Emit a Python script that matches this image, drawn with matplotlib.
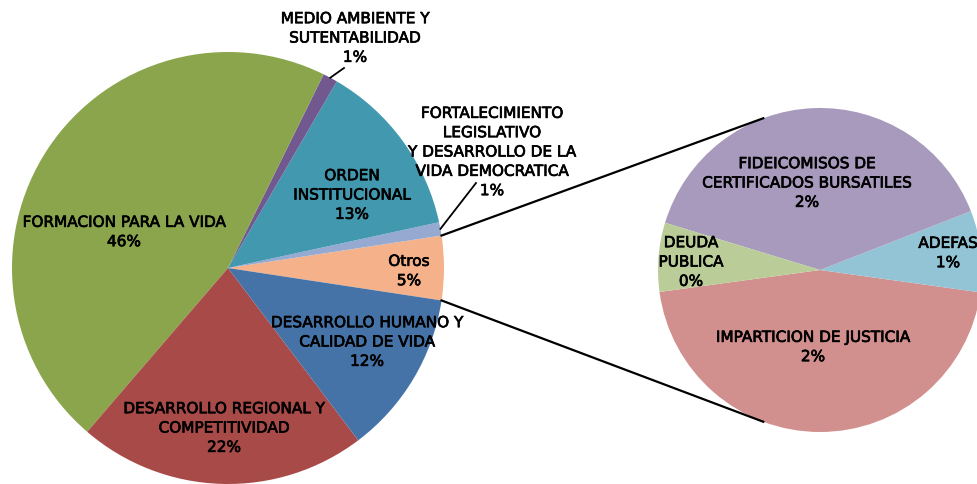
import numpy as np
import matplotlib
matplotlib.use("Agg")
import matplotlib.pyplot as plt
import matplotlib.patheffects as pe

# ---------------------------------------------------------------------------
# Data (percent of total budget)
# ---------------------------------------------------------------------------
main_labels = ["Otros",
               "FORTALECIMIENTO\nLEGISLATIVO\nY DESARROLLO DE LA\nVIDA DEMOCRATICA",
               "ORDEN\nINSTITUCIONAL",
               "MEDIO AMBIENTE Y\nSUTENTABILIDAD",
               "FORMACION PARA LA VIDA",
               "DESARROLLO REGIONAL Y\nCOMPETITIVIDAD",
               "DESARROLLO HUMANO Y\nCALIDAD DE VIDA"]
main_values = [4.8, 1.0, 13.2, 1.1, 46.0, 21.6, 12.3]
main_pct = ["5%", "1%", "13%", "1%", "46%", "22%", "12%"]
main_colors = ["#F5B28A", "#96AAD1", "#4198AF", "#71588F",
               "#8AA54C", "#A84A47", "#4673A7"]

sub_labels = ["IMPARTICION DE JUSTICIA", "ADEFAS",
              "FIDEICOMISOS DE\nCERTIFICADOS BURSATILES", "DEUDA\nPUBLICA"]
sub_values = [2.19, 0.39, 1.89, 0.33]
sub_pct = ["2%", "1%", "2%", "0%"]
sub_colors = ["#D1908E", "#93C4D5", "#A89ABD", "#BACD98"]

# ---------------------------------------------------------------------------
# Layout (pixel-like data coordinates, y up)
# ---------------------------------------------------------------------------
W, H = 977, 484
c1, r1 = (228, 216), 216
c2, r2 = (820, 214), 162
sub_start = 187.8
join_angle = 110.5

# label centres for each wedge, (x, y) with y up
main_text_pos = [(409, 213), (492, 332), (352, 289), (355, 446),
                 (124, 252), (224, 56), (367, 142)]
sub_text_pos = [(813, 137), (948, 231), (807, 301), (691, 222)]
leaders = {1: (476, 301), 3: (344, 416)}

fig = plt.figure(figsize=(W / 100, H / 100), dpi=100)
ax = fig.add_axes([0, 0, 1, 1])

main_start = -main_values[0] / sum(main_values) * 360 / 2
wedges1, _ = ax.pie(main_values, colors=main_colors, startangle=main_start,
                    center=c1, radius=r1, wedgeprops=dict(linewidth=0))
wedges2, _ = ax.pie(sub_values, colors=sub_colors, startangle=sub_start,
                    center=c2, radius=r2, wedgeprops=dict(linewidth=0))

# slightly heavier strokes to mimic the medium weight of the original font
txt = dict(ha="center", va="center", fontsize=11, color="black",
           family="DejaVu Sans", linespacing=1.36,
           path_effects=[pe.withStroke(linewidth=0.5, foreground="black")])
for lab, pct, pos in zip(main_labels, main_pct, main_text_pos):
    ax.text(pos[0], pos[1], f"{lab}\n{pct}", **txt)
for lab, pct, pos in zip(sub_labels, sub_pct, sub_text_pos):
    ax.text(pos[0], pos[1], f"{lab}\n{pct}", **txt)

# leader lines for the thin slices
for i, end in leaders.items():
    w = wedges1[i]
    mid = np.deg2rad((w.theta1 + w.theta2) / 2)
    start = (c1[0] + r1 * np.cos(mid), c1[1] + r1 * np.sin(mid))
    ax.plot([start[0], end[0]], [start[1], end[1]], color="black", lw=1.3)

# connector lines between the "Otros" slice and the second pie
otros = wedges1[0]
for a1, a2 in [(otros.theta2, join_angle), (otros.theta1, -join_angle)]:
    p1 = (c1[0] + r1 * np.cos(np.deg2rad(a1)), c1[1] + r1 * np.sin(np.deg2rad(a1)))
    p2 = (c2[0] + r2 * np.cos(np.deg2rad(a2)), c2[1] + r2 * np.sin(np.deg2rad(a2)))
    ax.plot([p1[0], p2[0]], [p1[1], p2[1]], color="black", lw=1.6)

ax.set_xlim(0, W)
ax.set_ylim(0, H)
ax.set_aspect("equal")
ax.axis("off")

fig.savefig("out.png", dpi=100, facecolor="white")
